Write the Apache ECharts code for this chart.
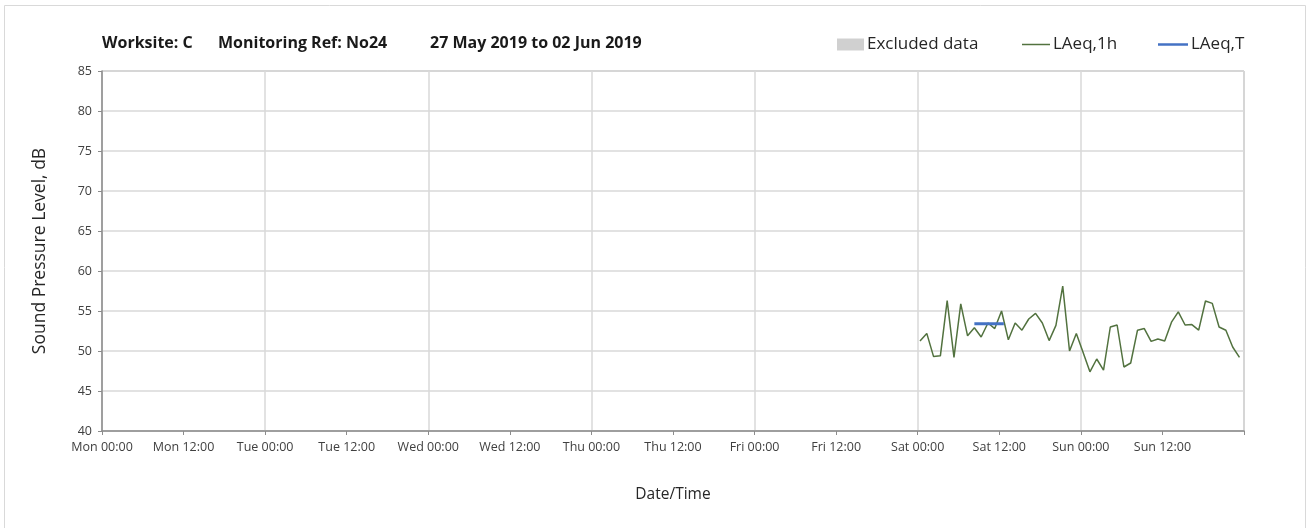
<!DOCTYPE html>
<html>
<head>
<meta charset="utf-8">
<script src="https://cdn.jsdelivr.net/npm/echarts@6/dist/echarts.min.js"></script>
<style>
  html, body { margin: 0; padding: 0; background: #fff; }
  #chart { width: 1309px; height: 528px; }
</style>
</head>
<body>
<div id="chart"></div>
<script>
  // week starts Mon 27 May 2019 00:00
  const days = ['Mon', 'Tue', 'Wed', 'Thu', 'Fri', 'Sat', 'Sun'];
  const tickLabels = [
    'Mon 00:00', 'Mon 12:00', 'Tue 00:00', 'Tue 12:00', 'Wed 00:00', 'Wed 12:00', 'Thu 00:00',
    'Thu 12:00', 'Fri 00:00', 'Fri 12:00', 'Sat 00:00', 'Sat 12:00', 'Sun 00:00', 'Sun 12:00',
  ];

  const readingTimes = [
    'Sat 00:20', 'Sat 01:20', 'Sat 02:20', 'Sat 03:20', 'Sat 04:20', 'Sat 05:20', 'Sat 06:20', 'Sat 07:20',
    'Sat 08:20', 'Sat 09:20', 'Sat 10:20', 'Sat 11:20', 'Sat 12:20', 'Sat 13:20', 'Sat 14:20', 'Sat 15:20',
    'Sat 16:20', 'Sat 17:20', 'Sat 18:20', 'Sat 19:20', 'Sat 20:20', 'Sat 21:20', 'Sat 22:20', 'Sat 23:20',
    'Sun 00:20', 'Sun 01:20', 'Sun 02:20', 'Sun 03:20', 'Sun 04:20', 'Sun 05:20', 'Sun 06:20', 'Sun 07:20',
    'Sun 08:20', 'Sun 09:20', 'Sun 10:20', 'Sun 11:20', 'Sun 12:20', 'Sun 13:20', 'Sun 14:20', 'Sun 15:20',
    'Sun 16:20', 'Sun 17:20', 'Sun 18:20', 'Sun 19:20', 'Sun 20:20', 'Sun 21:20', 'Sun 22:20', 'Sun 23:20',
  ];
  const laeq1h = [
    51.25, 52.2, 49.3, 49.4, 56.3, 49.2, 55.9, 51.9,
    52.9, 51.75, 53.5, 52.8, 55.0, 51.4, 53.5, 52.6,
    54.0, 54.7, 53.5, 51.3, 53.2, 58.1, 50.0, 52.2,
    49.8, 47.4, 49.0, 47.6, 53.0, 53.25, 48.0, 48.5,
    52.6, 52.8, 51.2, 51.5, 51.25, 53.6, 54.9, 53.25,
    53.3, 52.6, 56.25, 55.95, 53.0, 52.6, 50.5, 49.2,
  ];

  const laeqTTimes = ['Sat 08:20', 'Sat 12:40'];
  const laeqT = [53.4, 53.4];

  const excluded = []; // no excluded periods this week

  // 'Sat 08:20' -> hours since Mon 00:00
  function toHours(s) {
    const d = days.indexOf(s.slice(0, 3));
    const hh = parseInt(s.slice(4, 6), 10);
    const mm = parseInt(s.slice(7, 9), 10);
    return d * 24 + hh + mm / 60;
  }

  const chart = echarts.init(document.getElementById('chart'));
  const font = 'Open Sans';

  const option = {
    animation: false,
    textStyle: { fontFamily: font },
    graphic: [
      {
        type: 'rect',
        silent: true,
        shape: { x: 4.5, y: 5.5, width: 1301, height: 540 },
        style: { fill: 'none', stroke: '#d9d9d9', lineWidth: 1 },
      },
    ],
    title: [
      { text: 'Worksite: C', left: 102, top: 35 },
      { text: 'Monitoring Ref: No24', left: 218, top: 35 },
      { text: '27 May 2019 to 02 Jun 2019', left: 430, top: 35 },
    ].map((t) => ({
      ...t,
      padding: 0,
      textStyle: { fontFamily: font, fontSize: 16, fontWeight: 'bold', color: '#1a1a1a' },
    })),
    legend: [
      { data: [{ name: 'Excluded data', icon: 'rect' }], left: 837, itemWidth: 27, itemHeight: 12 },
      { data: [{ name: 'LAeq,1h', icon: 'rect' }], left: 1022, itemWidth: 28, itemHeight: 1.5 },
      { data: [{ name: 'LAeq,T', icon: 'rect' }], left: 1158, itemWidth: 30, itemHeight: 2.5 },
    ].map((l) => ({
      ...l,
      top: 36,
      padding: 0,
      selectedMode: false,
      textStyle: { fontFamily: font, fontSize: 17, color: '#262626', padding: [0, 0, 0, -2] },
    })),
    grid: {
      left: 102,
      right: 65,
      top: 71,
      bottom: 97,
      show: true,
      borderColor: '#a0a0a0',
      borderWidth: 1,
    },
    xAxis: [
      {
        type: 'value',
        min: 0,
        max: 168,
        interval: 12,
        name: 'Date/Time',
        nameLocation: 'middle',
        nameGap: 56,
        nameTextStyle: { fontSize: 15.5, color: '#262626', fontFamily: font },
        axisLine: { show: true, lineStyle: { color: '#8c8c8c', width: 1.5 } },
        axisTick: { show: true, length: 4, lineStyle: { color: '#8c8c8c' } },
        axisLabel: {
          margin: 10,
          fontSize: 12.5,
          color: '#404040',
          formatter: (v) => tickLabels[v / 12] || '',
        },
        splitLine: { show: false },
        z: 3,
      },
      {
        // day gridlines only (every 24 h)
        type: 'value',
        min: 0,
        max: 168,
        interval: 24,
        axisLine: { show: false },
        axisTick: { show: false },
        axisLabel: { show: false },
        splitLine: { show: true, lineStyle: { color: '#d9d9d9', width: 1.5 } },
      },
    ],
    yAxis: {
      type: 'value',
      min: 40,
      max: 85,
      interval: 5,
      name: 'Sound Pressure Level, dB',
      nameLocation: 'middle',
      nameGap: 53,
      nameTextStyle: { fontSize: 17.5, color: '#262626', fontFamily: font },
      axisLine: { show: true, lineStyle: { color: '#8c8c8c', width: 1.5 } },
      axisTick: { show: true, length: 4, lineStyle: { color: '#8c8c8c' } },
      axisLabel: { margin: 10, fontSize: 12.5, color: '#404040' },
      splitLine: { show: true, lineStyle: { color: '#d9d9d9', width: 1.5 } },
    },
    series: [
      {
        name: 'Excluded data',
        type: 'bar',
        color: '#d0d0d0',
        data: excluded,
      },
      {
        name: 'LAeq,1h',
        type: 'line',
        color: '#52723f',
        showSymbol: false,
        lineStyle: { width: 1.5, color: '#52723f' },
        data: readingTimes.map((t, i) => [toHours(t), laeq1h[i]]),
        z: 3,
      },
      {
        name: 'LAeq,T',
        type: 'line',
        color: '#4472c4',
        showSymbol: false,
        lineStyle: { width: 3, color: '#4472c4' },
        data: laeqTTimes.map((t, i) => [toHours(t), laeqT[i]]),
        z: 4,
      },
    ],
  };

  chart.setOption(option);
</script>
</body>
</html>
